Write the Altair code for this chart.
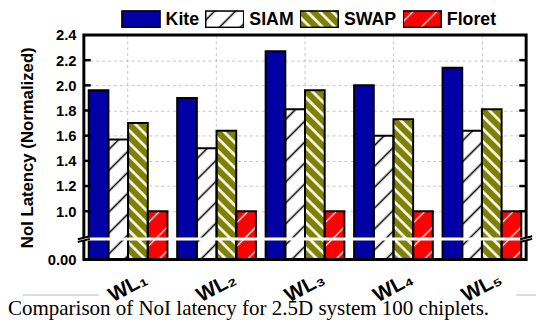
import altair as alt
import pandas as pd
from urllib.parse import quote

# ---------------- data ----------------
workloads = ["WL\u2081", "WL\u2082", "WL\u2083", "WL\u2084", "WL\u2085"]
series = ["Kite", "SIAM", "SWAP", "Floret"]
kite = [1.96, 1.90, 2.27, 2.00, 2.14]
siam = [1.57, 1.50, 1.81, 1.60, 1.64]
swap = [1.70, 1.64, 1.96, 1.73, 1.81]
floret = [1.00, 1.00, 1.00, 1.00, 1.00]
y_ticks = [1.0, 1.2, 1.4, 1.6, 1.8, 2.0, 2.2, 2.4]
inner_ticks = [1.0, 1.2, 1.4, 1.6, 1.8, 2.0, 2.2]
y_bottom = 0.616      # value shown as "0.00" (broken axis)
y_break = 0.78
caption = "Comparison of NoI latency for 2.5D system 100 chiplets."

colors = ["#0000a4", "#ffffff", "#808000", "#ff0000"]

# ---------------- layout ----------------
W, H = 449, 228
FONT = "Liberation Sans"
LEGEND_X = {"Kite": 58, "SIAM": 143, "SWAP": 239, "Floret": 343.5}


def hatch(bg, line=None, period=10, lw=1.5, angle=45, border=0):
    s = '<svg xmlns="http://www.w3.org/2000/svg" width="100%" height="100%">'
    if line:
        s += ('<defs><pattern id="h" patternUnits="userSpaceOnUse" '
              f'width="{period}" height="{period}" patternTransform="rotate({angle})">'
              f'<rect width="{period}" height="{period}" fill="{bg}"/>'
              f'<line x1="{period/2}" y1="0" x2="{period/2}" y2="{period}" '
              f'stroke="{line}" stroke-width="{lw}"/></pattern></defs>'
              '<rect width="100%" height="100%" fill="url(#h)"/>')
    else:
        s += f'<rect width="100%" height="100%" fill="{bg}"/>'
    if border:
        s += (f'<rect width="100%" height="100%" fill="none" stroke="#000" '
              f'stroke-width="{border}"/>')
    s += '</svg>'
    return "data:image/svg+xml;charset=utf-8," + quote(s)


def styles(border):
    return {
        "Kite": hatch(colors[0], border=border),
        "SIAM": hatch("#ffffff", "#000000", 15, 1.6, 45, border),
        "SWAP": hatch(colors[2], "#ffffff", 9, 2.6, -45, border),
        "Floret": hatch(colors[3], "#ffffff", 17, 1.3, 45, border),
    }


bar_img = styles(0)
leg_img = styles(3)

rows = []
for i, wl in enumerate(workloads):
    for s, vals in zip(series, [kite, siam, swap, floret]):
        rows.append({"wl": wl, "series": s, "value": vals[i], "img": bar_img[s]})
df = pd.DataFrame(rows)

leg_df = pd.DataFrame({"series": series, "img": [leg_img[s] for s in series]})

xscale = alt.Scale(paddingInner=0.11, paddingOuter=0.055)
xaxis = alt.Axis(title=None, labelAngle=-28, labelAlign="center",
                 labelBaseline="middle", labelPadding=28, labelFontSize=21,
                 labelFontWeight="bold", labelFont=FONT, labelColor="black",
                 ticks=False, domain=False, grid=True, gridDash=[3, 3],
                 gridColor="#c4c4c4", gridWidth=1)
xoff = alt.XOffset("series:N", sort=series,
                   scale=alt.Scale(paddingInner=0, paddingOuter=0))
yscale = alt.Scale(domain=[y_bottom, 2.4], nice=False, zero=False)
yaxis = alt.Axis(values=[y_bottom] + y_ticks,
                 labelExpr="datum.value < 0.9 ? '0.00' : format(datum.value, '.1f')",
                 title="NoI Latency (Normalized)", titleFontSize=17,
                 titleFont=FONT, titleFontWeight="bold", titleColor="black",
                 titlePadding=11, labelFontSize=15, labelFont=FONT,
                 labelFontWeight="bold", labelColor="black", labelPadding=8,
                 ticks=False, domain=False, grid=True, gridDash=[3, 3],
                 gridColor="#c4c4c4", gridWidth=1)

X = alt.X("wl:N", sort=workloads, scale=xscale, axis=xaxis)
Y = alt.Y("value:Q", scale=yscale, axis=yaxis)

base = alt.Chart(df)
bars = base.mark_bar(strokeWidth=0).encode(
    x=X, xOffset=xoff, y=Y, y2=alt.Y2Datum(y_bottom),
    color=alt.Color("series:N", sort=series,
                    scale=alt.Scale(domain=series, range=colors), legend=None),
)
imgs = base.mark_image(aspect=False).encode(
    x=X, xOffset=xoff, y=Y, y2=alt.Y2Datum(y_bottom), url=alt.Url("img:N"),
)
outlines = base.mark_bar(fillOpacity=0, stroke="black", strokeWidth=2).encode(
    x=X, xOffset=xoff, y=Y, y2=alt.Y2Datum(y_bottom),
)

one = alt.Data(values=[{"k": 1}])
frame = alt.Chart(one).mark_rect(fillOpacity=0, stroke="black", strokeWidth=3).encode(
    x=alt.value(0), x2=alt.value(W), y=alt.value(0), y2=alt.value(H))
break_line = alt.Chart(one).mark_rule(color="white", strokeWidth=3).encode(
    x=alt.value(-3), x2=alt.value(W + 3),
    y=alt.YDatum(y_break, scale=yscale, axis=yaxis))

tick_df = pd.DataFrame({"t": inner_ticks})
ticks_l = alt.Chart(tick_df).mark_rule(color="black", strokeWidth=2.5).encode(
    x=alt.value(0), x2=alt.value(7), y=alt.Y("t:Q", scale=yscale, axis=yaxis))
ticks_r = alt.Chart(tick_df).mark_rule(color="black", strokeWidth=2.5).encode(
    x=alt.value(W - 7), x2=alt.value(W), y=alt.Y("t:Q", scale=yscale, axis=yaxis))

brk_shape = "M-1,0.05L1,-0.45M-1,0.5L1,0"
brk_l = alt.Chart(one).mark_point(shape=brk_shape, size=150, filled=False,
                                  stroke="black", strokeWidth=2, opacity=1).encode(
    x=alt.value(0), y=alt.YDatum(y_break, scale=yscale, axis=yaxis))
brk_r = alt.Chart(one).mark_point(shape=brk_shape, size=150, filled=False,
                                  stroke="black", strokeWidth=2, opacity=1).encode(
    x=alt.value(W), y=alt.YDatum(y_break, scale=yscale, axis=yaxis))

main = alt.layer(bars, imgs, outlines, frame, break_line, ticks_l, ticks_r, brk_l, brk_r)

# manual legend (hatched symbols)
leg_expr = "{" + ",".join(f"'{k}':{v}" for k, v in LEGEND_X.items()) + "}[datum.series]"
leg_base = alt.Chart(leg_df).transform_calculate(lx=leg_expr)
leg_sym = leg_base.mark_image(width=40, height=18, aspect=False).encode(
    x=alt.X("lx:Q", scale=None, axis=None), y=alt.value(-16), url=alt.Url("img:N"))
leg_txt = leg_base.mark_text(align="left", baseline="middle", dx=25, font=FONT,
                             fontSize=18, fontWeight="bold", color="black").encode(
    x=alt.X("lx:Q", scale=None, axis=None), y=alt.value(-15), text="series:N")

cap = alt.Chart(one).mark_text(align="left", baseline="alphabetic",
                               font="Liberation Serif", fontSize=21.3, color="black").encode(
    x=alt.value(-77), y=alt.value(284), text=alt.value(caption))
gray_l = alt.Chart(one).mark_rule(color="#bbbbbb", strokeWidth=1).encode(
    x=alt.value(-62), x2=alt.value(15), y=alt.value(264))
gray_r = alt.Chart(one).mark_rule(color="#bbbbbb", strokeWidth=1).encode(
    x=alt.value(439), x2=alt.value(460), y=alt.value(264))

chart = alt.layer(main, leg_sym, leg_txt, cap, gray_l, gray_r).resolve_scale(
    x="independent"
).properties(
    width=W, height=H,
    autosize=alt.AutoSizeParams(type="none"),
    padding={"left": 77, "top": 25, "right": 10, "bottom": 60},
).configure_view(stroke=None)

chart.save("out.html", embed_options={"renderer": "svg", "actions": False})
